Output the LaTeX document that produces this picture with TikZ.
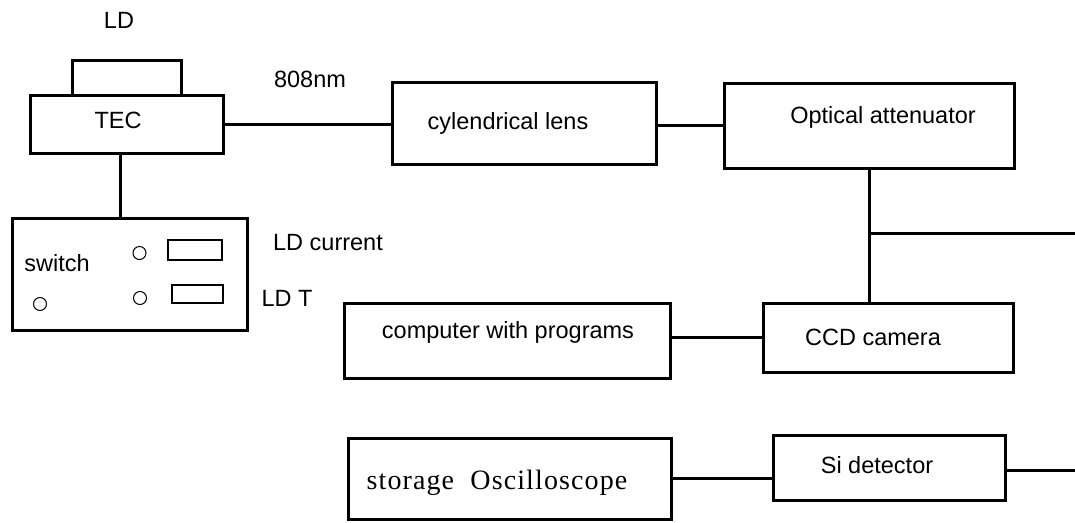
\documentclass[tikz,border=0pt]{standalone}
\usepackage{fontspec}
\setmainfont{Liberation Sans}
\newfontfamily\scopefont[LetterSpace=4]{Liberation Serif}
\usetikzlibrary{positioning}

\begin{document}
\begin{tikzpicture}[
    x=1pt, y=-1pt, % pixel grid, y runs downwards
    font=\fontsize{23.5}{28}\selectfont,
    unit/.style={
        draw,
        line width=3pt,
        inner sep=0pt,
        outer sep=0pt
    },
    tag/.style={inner sep=0pt},
    knob/.style={line width=1pt},
    slot/.style={draw, line width=2pt},
    wire/.style={line width=3pt}
]
\useasboundingbox (0,0) rectangle (1075,522);

% --- NODES ---
\node[unit, minimum width=193pt, minimum height=58pt,
      label={[xshift=-8.5pt, yshift=4pt]center:TEC}] (tec) at (126.5,124) {};
\node[unit, minimum width=109pt, minimum height=35pt, above=0pt of tec] (ld) {};
\node[tag] (ldtag) at (119,20) {LD};
\node[tag] (wavetag) at (310,79) {808nm};

% LD driver panel
\node[unit, minimum width=235pt, minimum height=112pt] (driver) at (129.5,274) {};
\node[tag] (switchtag) at (57,263) {switch};
\draw[knob] (139.5,253) circle (6.5);
\draw[knob] (140,298) circle (6.5);
\draw[knob] (40,304) circle (6.5);
\draw[slot] (168,240) rectangle (222,260);
\draw[slot] (172,285) rectangle (223,303);
\node[tag] (curtag) at (328,243) {LD current};
\node[tag] (temptag) at (287,298) {LD T};

% Optical chain
\node[unit, minimum width=264pt, minimum height=82pt,
      label={[xshift=-16pt]center:cylendrical lens}] (lens) at (524,123) {};
\node[unit, minimum width=290pt, minimum height=85pt,
      label={[xshift=14pt, yshift=8.5pt]center:Optical attenuator}] (atten) at (869,125.5) {};
\node[unit, minimum width=250pt, minimum height=69pt,
      label={[xshift=-15pt]center:CCD camera}] (ccd) at (888,337.5) {};
\node[unit, minimum width=326pt, minimum height=75pt,
      label={[xshift=1pt, yshift=8.5pt]center:computer with programs}] (comp) at (507,340.5) {};

% Detection branch
\node[unit, minimum width=323pt, minimum height=81pt,
      label={[xshift=-12.5pt, yshift=-4.5pt, font=\scopefont\fontsize{28}{32}\selectfont]center:storage\ \ Oscilloscope}] (osc) at (509.5,478.5) {};
\node[unit, minimum width=232pt, minimum height=65pt,
      label={[xshift=-12pt, yshift=2.5pt]center:Si detector}] (si) at (889,467.5) {};

\coordinate (tapend) at (1075,233);
\coordinate (siend) at (1075,470);

% --- CONNECTIONS ---
\draw[wire] (tec.east) -- (lens.west |- tec.east);
\draw[wire] (atten.west) -- (lens.east |- atten.west);
\draw[wire] ([xshift=-6.5pt]tec.south) -- ([xshift=-6.5pt]tec.south |- driver.north);
\draw[wire] (atten.south) -- (atten.south |- ccd.north);
\draw[wire] (atten.south |- tapend) -- (tapend);
\draw[wire] (ccd.west) -- (comp.east |- ccd.west);
\draw[wire] (osc.east) -- (si.west |- osc.east);
\draw[wire] (si.east |- siend) -- (siend);

\end{tikzpicture}
\end{document}
